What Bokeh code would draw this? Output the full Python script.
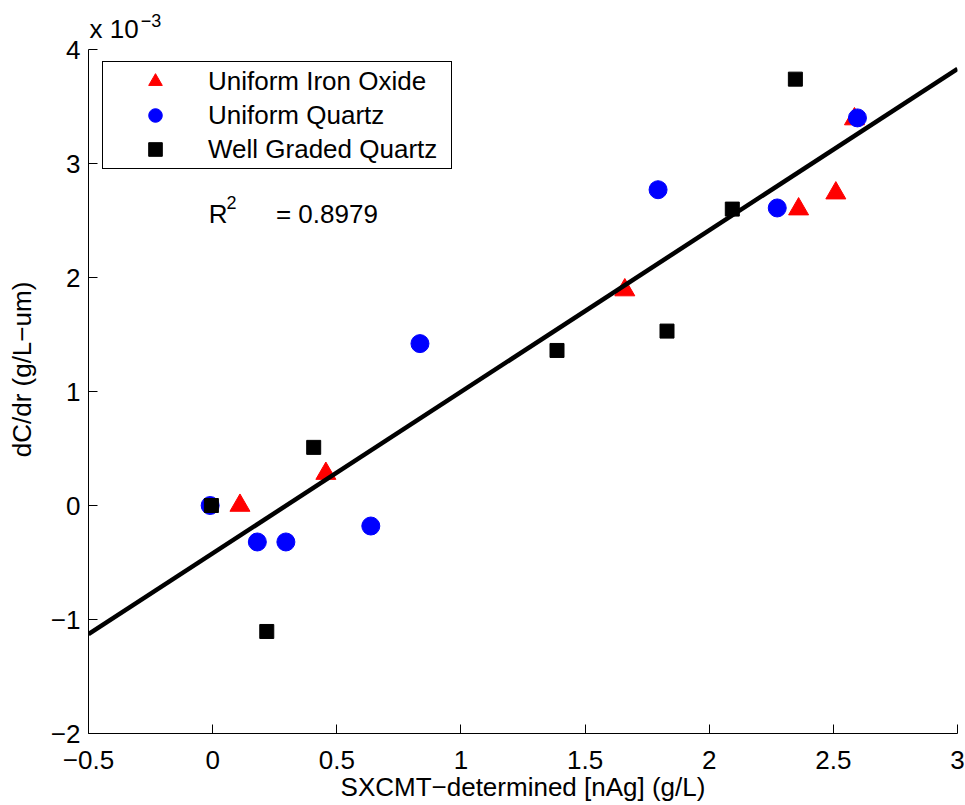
from bokeh.plotting import figure
from bokeh.models import Legend, LegendItem, Label, FixedTicker, Range1d
from bokeh.embed import file_html
from bokeh.resources import INLINE

FONT = "Liberation Sans"

# ---- data (y in units of 1e-3 g/L-um) ----
iron_x = [0.11, 0.456, 1.66, 2.36, 2.51, 2.585]
iron_y = [0.0, 0.28, 1.89, 2.60, 2.74, 3.39]

uq_x = [-0.01, 0.18, 0.295, 0.637, 0.835, 1.794, 2.274, 2.597]
uq_y = [0.0, -0.32, -0.32, -0.18, 1.42, 2.77, 2.61, 3.40]

wg_x = [-0.005, 0.218, 0.407, 1.387, 1.83, 2.093, 2.347]
wg_y = [0.0, -1.105, 0.51, 1.36, 1.53, 2.60, 3.74]

fit_slope = 1.417
fit_intercept = -0.42
fit_x = [-0.5, 3.0]
r_squared_text = "= 0.8979"

x_ticks = [-0.5, 0, 0.5, 1, 1.5, 2, 2.5, 3]
x_tick_labels = ["\u22120.5", "0", "0.5", "1", "1.5", "2", "2.5", "3"]
y_ticks = [-2, -1, 0, 1, 2, 3, 4]
y_tick_labels = ["\u22122", "\u22121", "0", "1", "2", "3", "4"]

# frame extends above y=4 so the "x 10^-3" note can be drawn inside it;
# the axis line itself stops at 4 via bounds
p = figure(width=965, height=805, output_backend="svg", toolbar_location=None,
           x_range=Range1d(-0.5, 3), y_range=Range1d(-2, 4.386),
           min_border_left=88, min_border_right=8, min_border_top=5,
           min_border_bottom=72)
p.outline_line_color = None
p.xgrid.visible = False
p.ygrid.visible = False
p.background_fill_color = "white"
p.border_fill_color = "white"

for ax in (p.xaxis[0], p.yaxis[0]):
    ax.axis_line_color = "black"
    ax.axis_line_width = 1
    ax.major_tick_in = 9
    ax.major_tick_out = 0
    ax.major_tick_line_color = "black"
    ax.minor_tick_line_color = None
    ax.major_label_text_font = FONT
    ax.major_label_text_font_size = "26px"
    ax.major_label_text_color = "black"
    ax.axis_label_text_font = FONT
    ax.axis_label_text_font_size = "26px"
    ax.axis_label_text_font_style = "normal"
    ax.axis_label_text_color = "black"

p.xaxis[0].ticker = FixedTicker(ticks=x_ticks)
p.xaxis[0].major_label_overrides = {float(k): v for k, v in zip(x_ticks, x_tick_labels)}
p.xaxis[0].axis_label = "SXCMT\u2212determined [nAg] (g/L)"
p.xaxis[0].major_label_standoff = 17
p.xaxis[0].axis_label_standoff = 0

p.yaxis[0].ticker = FixedTicker(ticks=y_ticks)
p.yaxis[0].bounds = (-2, 4)
p.yaxis[0].major_label_overrides = {float(k): v for k, v in zip(y_ticks, y_tick_labels)}
p.yaxis[0].axis_label = "dC/dr (g/L\u2212um)"
p.yaxis[0].major_label_standoff = 8
p.yaxis[0].axis_label_standoff = 11

r_iron = p.scatter(iron_x, iron_y, marker="triangle", size=20,
                   fill_color="#ff0000", line_color="#ff0000")
r_uq = p.scatter(uq_x, uq_y, marker="circle", size=18,
                 fill_color="#0000ff", line_color="#0000ff")
r_wg = p.scatter(wg_x, wg_y, marker="square", size=14,
                 fill_color="black", line_color="black")

fit_y = [fit_intercept + fit_slope * x for x in fit_x]
p.line(fit_x, fit_y, line_width=4.5, line_color="black")

legend = Legend(
    items=[LegendItem(label="Uniform Iron Oxide", renderers=[r_iron]),
           LegendItem(label="Uniform Quartz", renderers=[r_uq]),
           LegendItem(label="Well Graded Quartz", renderers=[r_wg])],
    location=(14, 564), padding=2, spacing=0,
    glyph_width=100, glyph_height=34, label_height=34, label_width=241,
    label_standoff=3, label_text_font=FONT, label_text_font_size="26px",
    label_text_color="black",
    border_line_color="black", border_line_width=1, border_line_alpha=1,
    background_fill_color="white", background_fill_alpha=1)
p.add_layout(legend)

txt = dict(text_font=FONT, text_color="black", text_baseline="alphabetic",
           text_align="left")
p.add_layout(Label(x=-0.5, y=4.184, x_offset=1, text="x 10",
                   text_font_size="26px", **txt))
p.add_layout(Label(x=-0.29, y=4.254, text="\u22123",
                   text_font_size="18px", **txt))
p.add_layout(Label(x=-0.016, y=2.56, text="R", text_font_size="26px", **txt))
p.add_layout(Label(x=0.056, y=2.66, text="2", text_font_size="18px", **txt))
p.add_layout(Label(x=0.255, y=2.56, text=r_squared_text,
                   text_font_size="26px", **txt))

open("out.html", "w").write(file_html(p, INLINE))
